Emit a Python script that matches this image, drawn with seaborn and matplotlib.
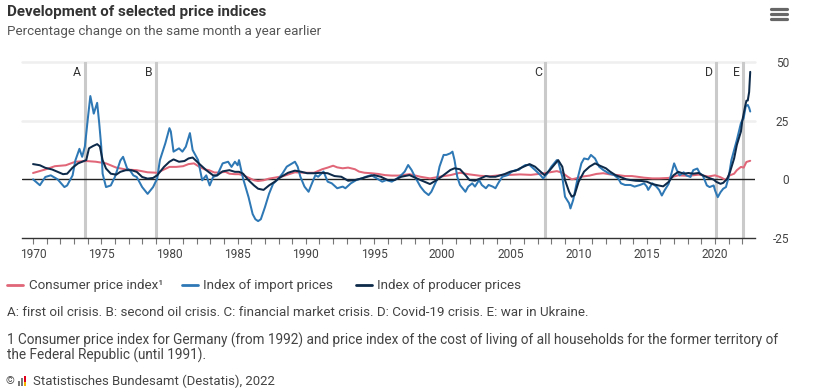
import numpy as np
import pandas as pd
import matplotlib
matplotlib.use("Agg")
import matplotlib.pyplot as plt
import seaborn as sns
from matplotlib.lines import Line2D
from matplotlib.patches import Rectangle

# ---------------- data ----------------
cpi_t = [1970.0, 1970.9, 1971.6, 1972.4, 1973.1, 1973.9, 1974.6, 1975.35, 1976.1, 1976.8,
         1977.6, 1978.4, 1979.1, 1979.6, 1980.0, 1980.5, 1981.0, 1981.4, 1981.8, 1982.2,
         1982.6, 1982.9, 1983.3, 1983.7, 1984.1, 1984.4, 1984.8, 1985.1, 1985.4, 1985.8,
         1986.2, 1986.5, 1986.9, 1987.3, 1987.7, 1988.3, 1989.2, 1989.9, 1990.6, 1991.2,
         1991.6, 1992.0, 1992.3, 1992.7, 1993.1, 1993.6, 1993.9, 1994.3, 1994.8, 1995.3,
         1995.8, 1996.3, 1996.8, 1997.6, 1998.4, 1999.1, 1999.8, 2000.6, 2001.3, 2002.0,
         2002.8, 2003.5, 2004.3, 2005.0, 2005.7, 2006.5, 2007.5, 2008.0, 2008.4, 2008.8,
         2009.2, 2009.5, 2009.8, 2010.3, 2010.8, 2011.3, 2011.8, 2012.3, 2012.9, 2013.4,
         2013.9, 2014.3, 2014.8, 2015.4, 2015.9, 2016.6, 2017.3, 2018.05, 2018.8, 2019.5,
         2020.0, 2020.4, 2020.8, 2021.0, 2021.4, 2021.6, 2021.9, 2022.1, 2022.3, 2022.58]
cpi_v = [2.7, 4.2, 5.6, 6.0, 7.5, 7.8, 7.5, 6.8, 5.0, 4.2,
         3.9, 3.0, 2.8, 4.2, 5.3, 5.3, 5.6, 6.5, 6.8, 5.3,
         4.2, 3.9, 2.9, 2.9, 3.2, 2.4, 2.2, 2.2, 1.7, 0.7,
         -0.4, -0.7, -0.4, 0.3, 0.7, 1.3, 3.0, 2.8, 2.8, 4.3,
         5.0, 5.8, 5.1, 4.7, 5.0, 4.3, 3.3, 2.8, 2.6, 2.3,
         1.8, 1.6, 1.6, 2.2, 1.1, 0.4, 1.1, 1.8, 2.8, 2.1,
         1.5, 1.3, 1.8, 1.9, 2.1, 1.9, 2.6, 3.1, 3.5, 2.8,
         1.1, 0.0, 0.4, 1.2, 1.6, 2.3, 2.6, 2.1, 1.8, 1.4,
         1.4, 1.1, 0.7, 0.4, 0.4, 0.6, 1.7, 1.5, 2.0, 1.2,
         1.7, 0.9, -0.3, 1.5, 2.4, 3.9, 5.3, 5.0, 7.4, 7.9]

imp_t = [1970.0, 1970.5, 1970.9, 1971.3, 1971.8, 1972.3, 1972.5, 1972.9, 1973.1, 1973.4,
         1973.6, 1973.8, 1974.0, 1974.2, 1974.3, 1974.45, 1974.7, 1974.85, 1975.0, 1975.1,
         1975.35, 1975.7, 1976.0, 1976.4, 1976.6, 1976.9, 1977.1, 1977.35, 1977.6, 1978.0,
         1978.4, 1978.8, 1979.1, 1979.3, 1979.7, 1980.0, 1980.1, 1980.3, 1980.7, 1980.95,
         1981.2, 1981.5, 1981.7, 1982.1, 1982.4, 1982.7, 1982.95, 1983.2, 1983.5, 1983.9,
         1984.3, 1984.55, 1984.8, 1985.0, 1985.1, 1985.4, 1985.8, 1986.1, 1986.3, 1986.5,
         1986.7, 1987.0, 1987.3, 1987.6, 1988.0, 1988.3, 1988.6, 1989.2, 1989.4, 1989.6,
         1989.9, 1990.2, 1990.4, 1990.7, 1990.9, 1991.3, 1991.6, 1991.9, 1992.3, 1992.7,
         1992.9, 1993.3, 1993.7, 1994.1, 1994.4, 1994.8, 1995.2, 1995.6, 1995.9, 1996.3,
         1996.7, 1997.0, 1997.25, 1997.5, 1997.75, 1998.0, 1998.4, 1998.7, 1999.0, 1999.2,
         1999.6, 1999.8, 2000.1, 2000.3, 2000.6, 2000.75, 2000.9, 2001.1, 2001.3, 2001.7,
         2001.9, 2002.2, 2002.4, 2002.7, 2002.9, 2003.2, 2003.4, 2003.7, 2003.9, 2004.1,
         2004.4, 2004.8, 2005.1, 2005.4, 2005.6, 2005.9, 2006.1, 2006.4, 2006.8, 2007.2,
         2007.4, 2007.7, 2008.0, 2008.4, 2008.5, 2008.8, 2009.0, 2009.3, 2009.4, 2009.6,
         2009.9, 2010.2, 2010.4, 2010.7, 2010.9, 2011.2, 2011.5, 2011.8, 2012.2, 2012.6,
         2012.9, 2013.1, 2013.4, 2013.8, 2014.1, 2014.5, 2014.8, 2015.0, 2015.1, 2015.4,
         2015.7, 2015.9, 2016.1, 2016.3, 2016.6, 2016.8, 2017.0, 2017.2, 2017.4, 2017.7,
         2017.9, 2018.2, 2018.4, 2018.7, 2018.9, 2019.1, 2019.4, 2019.6, 2019.9, 2020.0,
         2020.2, 2020.4, 2020.6, 2020.8, 2021.0, 2021.2, 2021.4, 2021.6, 2021.9, 2022.1,
         2022.25, 2022.4, 2022.5, 2022.58]
imp_v = [0.0, -2.5, 1.0, 1.7, 0.0, -3.3, -2.6, 1.7, 8.0, 13.0,
         9.6, 14.0, 25.0, 35.5, 32.6, 28.0, 32.6, 24.0, 14.0, 2.4,
         -3.3, -2.6, 1.0, 8.0, 9.6, 4.6, 3.9, 1.7, 1.0, -3.3,
         -6.2, -3.3, 0.3, 8.2, 15.4, 21.8, 20.4, 11.8, 13.2, 11.8,
         13.9, 19.7, 12.5, 8.2, -0.4, 1.7, -2.6, 1.0, 1.7, 6.8,
         7.5, 5.3, 7.5, 6.0, 8.2, 0.3, -7.6, -14.8, -17.0, -17.8,
         -17.0, -11.9, -6.2, -1.9, 0.3, 2.6, 5.4, 7.5, 5.4, 1.1,
         -3.1, -5.3, -2.4, 1.8, 1.1, 3.3, -1.0, -1.7, -3.8, -3.1,
         -3.8, -1.7, -0.3, 0.4, 1.1, 1.8, 0.4, -1.0, -0.3, -1.0,
         0.4, 1.8, 3.3, 6.1, 4.0, 1.1, -3.1, -5.3, -6.7, -5.3,
         -0.3, 5.4, 10.4, 10.4, 11.1, 11.8, 8.2, 1.1, -2.4, -5.3,
         -3.1, -1.7, -3.1, -0.3, -2.4, -3.8, -2.4, -3.1, -3.8, -1.7,
         1.1, 1.8, 3.3, 4.0, 4.0, 5.4, 6.1, 6.1, 4.0, 1.8,
         0.4, 2.5, 5.4, 8.2, 7.5, 1.1, -7.4, -10.2, -12.4, -8.8,
         -0.3, 6.8, 8.9, 8.5, 10.4, 8.9, 5.4, 4.0, 2.6, 1.8,
         0.4, -1.7, -2.4, -2.4, -3.1, -2.4, -1.7, -3.1, -4.5, -1.7,
         -3.1, -4.5, -6.9, -4.7, -1.9, 2.4, 6.8, 3.9, 1.7, 3.0,
         1.7, 1.0, 3.9, 4.6, 2.4, 1.7, -2.6, -3.3, -2.6, -4.7,
         -7.6, -5.5, -4.0, -3.3, 1.0, 8.2, 12.5, 16.8, 24.0, 26.2,
         31.2, 31.7, 30.5, 28.9]

ppi_t = [1970.0, 1970.5, 1970.9, 1971.4, 1971.8, 1972.2, 1972.5, 1972.9, 1973.3, 1973.6,
         1973.9, 1974.1, 1974.4, 1974.7, 1974.9, 1975.1, 1975.35, 1975.7, 1976.1, 1976.4,
         1976.8, 1977.2, 1977.6, 1978.0, 1978.4, 1978.8, 1979.1, 1979.6, 1980.0, 1980.3,
         1980.7, 1981.1, 1981.4, 1981.7, 1981.9, 1982.3, 1982.7, 1983.2, 1983.5, 1983.9,
         1984.4, 1984.8, 1985.1, 1985.4, 1985.8, 1986.2, 1986.5, 1986.9, 1987.3, 1987.7,
         1988.0, 1988.2, 1988.7, 1989.2, 1989.6, 1990.1, 1990.6, 1991.1, 1991.6, 1992.1,
         1992.6, 1993.1, 1993.6, 1994.1, 1994.5, 1995.0, 1995.5, 1996.0, 1996.5, 1997.0,
         1997.6, 1998.4, 1999.1, 1999.6, 2000.1, 2000.6, 2000.9, 2001.3, 2001.7, 2002.0,
         2002.4, 2002.8, 2003.2, 2003.5, 2003.9, 2004.3, 2004.6, 2005.0, 2005.4, 2005.7,
         2006.1, 2006.4, 2006.8, 2007.2, 2007.5, 2007.9, 2008.3, 2008.5, 2008.8, 2009.0,
         2009.3, 2009.5, 2009.7, 2010.0, 2010.4, 2010.8, 2011.2, 2011.6, 2012.0, 2012.3,
         2012.7, 2013.1, 2013.5, 2013.8, 2014.2, 2014.6, 2015.0, 2015.4, 2015.85, 2016.2,
         2016.6, 2016.95, 2017.3, 2017.7, 2018.05, 2018.4, 2018.8, 2019.1, 2019.5, 2019.9,
         2020.1, 2020.4, 2020.6, 2020.9, 2021.1, 2021.4, 2021.6, 2021.9, 2022.0, 2022.2,
         2022.3, 2022.4, 2022.5, 2022.58]
ppi_v = [6.5, 6.0, 4.9, 4.2, 3.2, 2.2, 2.4, 5.0, 6.8, 7.5,
         8.2, 13.2, 14.2, 15.0, 14.0, 8.2, 4.6, 2.4, 2.0, 3.2,
         3.9, 3.9, 3.2, 1.0, 0.3, 0.6, 1.7, 5.3, 7.5, 8.5,
         7.5, 7.8, 8.9, 9.3, 8.2, 6.0, 3.9, 1.7, 1.7, 3.4,
         3.9, 3.2, 3.2, 2.4, -0.4, -2.6, -4.0, -4.5, -2.6, -1.1,
         0.3, 1.1, 2.8, 3.7, 3.3, 2.6, 2.6, 2.8, 2.6, 1.4,
         1.1, -0.6, -0.3, 0.4, 1.1, 1.8, 1.1, -0.3, -0.3, 1.1,
         1.8, -0.3, -2.0, -0.3, 1.8, 4.0, 4.7, 4.3, 1.8, -0.3,
         -0.6, 0.4, 1.4, 1.1, 1.1, 1.8, 2.3, 3.3, 3.7, 4.7,
         5.7, 6.5, 5.4, 3.3, 1.8, 4.0, 6.8, 8.2, 5.4, -0.3,
         -5.3, -7.4, -6.7, -1.0, 3.3, 5.4, 6.8, 5.7, 4.7, 3.3,
         1.8, 0.9, 0.0, -0.3, -0.6, -0.7, -1.0, -2.0, -2.6, -3.0,
         -1.1, 1.7, 3.2, 2.4, 2.7, 2.4, 2.7, 1.7, 0.7, -0.1,
         -1.1, -1.9, -1.5, 0.3, 3.2, 8.9, 14.7, 20.4, 25.0, 30.9,
         33.5, 33.6, 37.2, 45.8]

series_names = ["Consumer price index¹", "Index of import prices", "Index of producer prices"]
series_colors = ["#e06678", "#2e78b5", "#0d2a4a"]

crisis_t = [1973.78, 1979.05, 2007.55, 2020.1, 2022.08]
crisis_labels = ["A", "B", "C", "D", "E"]

xtick_years = list(range(1970, 2021, 5))
minor_years = list(range(1970, 2023))
ytick_vals = [-25, 0, 25, 50]

# ---------------- figure ----------------
sns.set_theme(style="white")
plt.rcParams["font.family"] = ["Roboto", "DejaVu Sans"]

W, H = 815, 391
fig = plt.figure(figsize=(W / 100, H / 100), dpi=100)
fig.patch.set_facecolor("white")


def fx(px):
    return px / W


def fy(py):
    return 1 - py / H


ax = fig.add_axes([fx(22), fy(238), fx(755) - fx(22), fy(62) - fy(238)])
ax.set_facecolor("white")

df = pd.concat([
    pd.DataFrame({"year": cpi_t, "value": cpi_v, "series": series_names[0]}),
    pd.DataFrame({"year": imp_t, "value": imp_v, "series": series_names[1]}),
    pd.DataFrame({"year": ppi_t, "value": ppi_v, "series": series_names[2]}),
])

# grid / reference lines
for g in (25, 50):
    ax.axhline(g, color="#efefef", lw=1.8, zorder=0, clip_on=False)
for t in crisis_t:
    ax.axvline(t, color="#cacaca", lw=2.2, zorder=1)
ax.axhline(0, color="#222222", lw=1.0, zorder=2)

sns.lineplot(data=df, x="year", y="value", hue="series", hue_order=series_names,
             palette=dict(zip(series_names, series_colors)), estimator=None,
             sort=False, lw=1.45, legend=False, ax=ax, zorder=3)

for t, lab in zip(crisis_t, crisis_labels):
    ax.text(t - 0.25, 48.5, lab, ha="right", va="top", fontsize=8.8, color="#333333")

ax.set_xlim(1969.19, 2022.93)
ax.set_ylim(-25, 50)
ax.set_xlabel("")
ax.set_ylabel("")
for s in ("top", "left", "right"):
    ax.spines[s].set_visible(False)
ax.spines["bottom"].set_color("#333333")
ax.spines["bottom"].set_linewidth(1.0)

ax.set_xticks(xtick_years)
ax.set_xticklabels([str(y) for y in xtick_years])
ax.set_xticks(minor_years, minor=True)
ax.tick_params(axis="x", which="both", direction="out", length=4, width=0.8,
               color="#777777", bottom=True, labelsize=8.6, labelcolor="#444444", pad=3)

ax.yaxis.tick_right()
ax.set_yticks(ytick_vals)
ax.set_yticklabels([str(v) for v in ytick_vals])
ax.tick_params(axis="y", length=0, pad=24.5, labelsize=8.6, labelcolor="#444444")
for lab in ax.get_yticklabels():
    lab.set_ha("right")
ax.grid(False)

# ---------------- texts ----------------
fig.canvas.draw()
rend = fig.canvas.get_renderer()


def fit_size(s, target_w, size0=9, **kw):
    t = fig.text(0, 0, s, fontsize=size0, **kw)
    w = t.get_window_extent(renderer=rend).width
    t.remove()
    return size0 * target_w / w


def put(x, y, s, size, **kw):
    return fig.text(fx(x), fy(y), s, fontsize=size, va="center", ha="left", **kw)


put(7, 12, "Development of selected price indices",
    fit_size("Development of selected price indices", 260, 10, fontweight="bold"),
    fontweight="bold", color="#333333")
put(7, 31, "Percentage change on the same month a year earlier",
    fit_size("Percentage change on the same month a year earlier", 316), color="#555555")

# legend (common font size)
leg_items = [(7, 23, 29, 134), (182, 198, 203, 133), (356, 372, 377, 146)]
leg_sizes = [fit_size(n, tw) for (_, _, _, tw), n in zip(leg_items, series_names)]
leg_size = float(np.mean(leg_sizes))
for (l0, l1, tx, tw), name, col in zip(leg_items, series_names, series_colors):
    fig.add_artist(Line2D([fx(l0), fx(l1)], [fy(285), fy(285)], color=col, lw=2.0))
    put(tx, 285, name, leg_size, color="#444444")

ann = ("A: first oil crisis. B: second oil crisis. C: financial market crisis. "
       "D: Covid-19 crisis. E: war in Ukraine.")
put(7, 313, ann, fit_size(ann, 582, 8), color="#444444")
foot1 = ("1 Consumer price index for Germany (from 1992) and price index of the cost "
         "of living of all households for the former territory of")
fsz = fit_size(foot1, 773, 8)
put(7, 340, foot1, fsz, color="#444444")
put(7, 355, "the Federal Republic (until 1991).", fsz, color="#444444")

put(6, 381, "©", 8, color="#444444")
for bx, bh, bc in [(17.5, 5, "#777777"), (20.5, 8, "#777777"), (23.5, 10, "#e2001a"), (23.5, 4, "#f5b400")]:
    fig.add_artist(Rectangle((fx(bx), fy(386)), 2 / W, bh / H, color=bc, lw=0))
src = "Statistisches Bundesamt (Destatis), 2022"
put(33, 381, src, fit_size(src, 244), color="#444444")

# menu icon
for yy in (9, 14, 19):
    fig.add_artist(Line2D([fx(771), fx(787)], [fy(yy), fy(yy)], color="#666666",
                          lw=2.3, solid_capstyle="round"))

fig.savefig("out.png", dpi=100, facecolor="white")
